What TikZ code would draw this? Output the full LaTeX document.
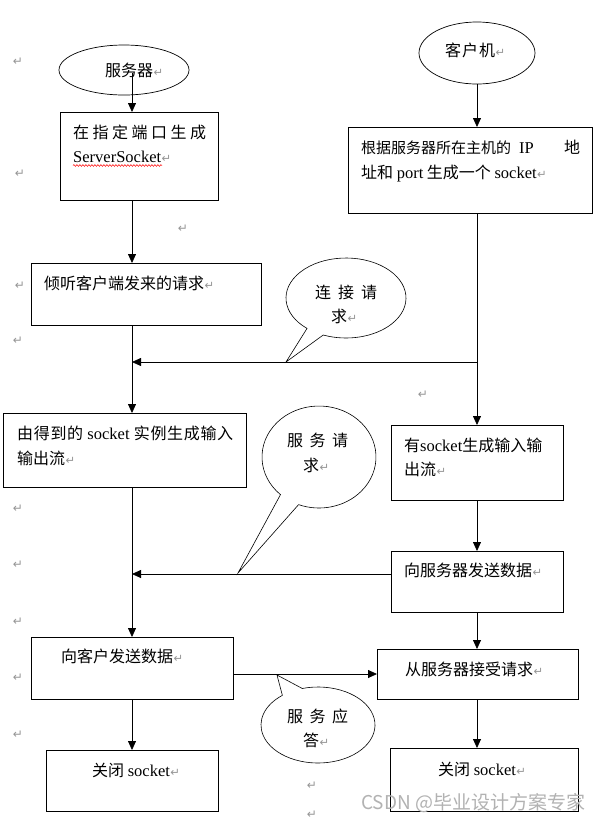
\documentclass[tikz,border=0pt]{standalone}
\usepackage{fontspec}
\setmainfont{Liberation Serif}
\newfontfamily\cjkfont{Noto Sans CJK SC}
\newfontfamily\symfont{DejaVu Sans}
\usetikzlibrary{arrows.meta,shapes.geometric,calc,decorations.pathmorphing}
\definecolor{retgray}{RGB}{150,150,150}
\definecolor{wmgray}{RGB}{178,178,178}
\newcommand\lat[1]{{\rmfamily\fontsize{16.5}{20}\selectfont #1}}
\newcommand\ret{{\color{retgray}\symfont\fontsize{11.5}{13}\selectfont\kern0.5pt↵}}
\newcommand\spr[2]{\hbox to #1{#2}}
\begin{document}
\begin{tikzpicture}[x=1pt, y=-1pt,
  box/.style={draw, line width=0.8pt, anchor=north west, inner sep=0pt, outer sep=0pt},
  oval/.style={ellipse, draw, line width=0.7pt, inner sep=0pt, outer sep=0pt},
  arr/.style={-{Triangle[length=9pt,width=8pt]}, line width=0.8pt},
  bub/.style={draw, line width=0.6pt, fill=white},
  txt/.style={anchor=base west, inner sep=0pt, font=\cjkfont\fontsize{16}{20}\selectfont},
  retn/.style={inner sep=0pt, text=retgray, font=\symfont\fontsize{12}{14}\selectfont}]
\fill[white] (0,0) rectangle (599,823);
\useasboundingbox (0,0) rectangle (599,823);

% ovals
\node[oval, minimum width=130pt, minimum height=50pt] (srv) at (124,70) {};
\node[oval, minimum width=116pt, minimum height=62pt] (cli) at (477,53) {};

% boxes
\node[box, minimum width=158pt, minimum height=88pt] (b1) at (60,112) {};
\node[box, minimum width=230pt, minimum height=62pt] (b2) at (31,263) {};
\node[box, minimum width=244pt, minimum height=86pt] (b3) at (348,127) {};
\node[box, minimum width=243pt, minimum height=74pt] (b4) at (3,413) {};
\node[box, minimum width=172pt, minimum height=75pt] (b5) at (391,425) {};
\node[box, minimum width=172pt, minimum height=61pt] (b6) at (391,551) {};
\node[box, minimum width=202pt, minimum height=62pt] (b7) at (31,637) {};
\node[box, minimum width=201pt, minimum height=50pt] (b8) at (377,649) {};
\node[box, minimum width=172pt, minimum height=61pt] (b9) at (46,750) {};
\node[box, minimum width=188pt, minimum height=63pt] (b10) at (390,748) {};

% helper coordinates
\coordinate (L) at (132,0);
\coordinate (R) at (477,0);
\coordinate (s0) at (132,73);
\coordinate (j1) at (477,362);
\coordinate (k1) at (132,362);
\coordinate (k2) at (132,574);
\coordinate (h) at (0,674);

% connectors
\draw[arr] (s0) -- (b1.north -| L);
\draw[arr] (b1.south -| L) -- (b2.north -| L);
\draw[arr] (cli.south -| R) -- (b3.north -| R);
\draw[arr] (b3.south -| R) -- (b5.north -| R);
\draw[arr] (j1) -- (k1);
\draw[arr] (b2.south -| L) -- (b4.north -| L);
\draw[arr] (b5.south -| R) -- (b6.north -| R);
\draw[arr] (b6.west |- k2) -- (k2);
\draw[arr] (b4.south -| L) -- (b7.north -| L);
\draw[arr] (b6.south -| R) -- (b8.north -| R);
\draw[arr] (b7.east |- h) -- (b8.west |- h);
\draw[arr] (b7.south -| L) -- (b9.north -| L);
\draw[arr] (b8.south -| R) -- (b10.north -| R);

% speech bubbles
\coordinate (c1) at (346,298); \coordinate (tp1) at (286,362);
\draw[bub] (tp1) -- ($(c1)+(130.5:60 and 40)$) arc[start angle=130.5, end angle=472.3, x radius=60, y radius=40] -- cycle;
\coordinate (c2) at (319,457); \coordinate (tp2) at (238,573);
\draw[bub] (tp2) -- ($(c2)+(132.5:57 and 51)$) arc[start angle=132.5, end angle=471, x radius=57, y radius=51] -- cycle;
\coordinate (c3) at (318,725); \coordinate (tp3) at (277,675);
\draw[bub] (tp3) -- ($(c3)+(254:57 and 38)$) arc[start angle=254, end angle=591.3, x radius=57, y radius=38] -- cycle;

% texts
\node[txt] (srvt) at (105,76) {\spr{48pt}{服\hss 务\hss 器}\ret};
\node[txt] (t1a) at (73,138) {\spr{133pt}{在\hss 指\hss 定\hss 端\hss 口\hss 生\hss 成}};
\node[txt] (t1b) at (73,162) {\lat{ServerSocket}\ret};
\draw[red, line width=0.5pt, decorate, decoration={snake, amplitude=0.9pt, segment length=3pt}] (73,165.5) -- (162,165.5);
\node[txt] (t2) at (44,289) {倾听客户端发来的请求\ret};
\node[txt] (clit) at (445,56) {\spr{50pt}{客\hss 户\hss 机}\ret};
\node[txt] (t3a) at (361,153) {\spr{219pt}{{\fontsize{15}{18}\selectfont 根据服务器所在主机的}\hspace{8pt}\lat{IP}\hfil 地}};
\node[txt] (t3b) at (361,178) {址和 \lat{port} 生成一个 \lat{socket}\ret};
\node[txt] (bt1a) at (315,298) {\spr{62pt}{连\hss 接\hss 请}};
\node[txt] (bt1b) at (331,322) {求\ret};
\node[txt] (t4a) at (17,439) {\spr{216pt}{由\hss 得\hss 到\hss 的\hss\ \lat{socket}\ \hss 实\hss 例\hss 生\hss 成\hss 输\hss 入}};
\node[txt] (t4b) at (17,464) {输出流\ret};
\node[txt] (t5a) at (404,451) {有\lat{socket}生成输入输};
\node[txt] (t5b) at (404,475) {出流\ret};
\node[txt] (bt2a) at (287,446) {\spr{61pt}{服\hss 务\hss 请}};
\node[txt] (bt2b) at (303,471) {求\ret};
\node[txt] (t6) at (404,576) {向服务器发送数据\ret};
\node[txt] (t7) at (61,662) {向客户发送数据\ret};
\node[txt] (t8) at (405,675) {从服务器接受请求\ret};
\node[txt] (bt3a) at (287,722) {\spr{61pt}{服\hss 务\hss 应}};
\node[txt] (bt3b) at (303,746) {答\ret};
\node[txt] (t9) at (92,776) {关闭 \lat{socket}\ret};
\node[txt] (t10) at (438,775) {关闭 \lat{socket}\ret};

% stray paragraph marks
\node[retn] (r1) at (18,62) {↵};
\node[retn] (r2) at (20,174) {↵};
\node[retn] (r3) at (183,229) {↵};
\node[retn] (r4) at (20,286) {↵};
\node[retn] (r5) at (18,341) {↵};
\node[retn] (r6) at (423,395) {↵};
\node[retn] (r7) at (18,509) {↵};
\node[retn] (r8) at (18,565) {↵};
\node[retn] (r9) at (18,622) {↵};
\node[retn] (r10) at (18,678) {↵};
\node[retn] (r11) at (18,735) {↵};
\node[retn] (r12) at (312,786) {↵};
\node[retn] (r13) at (312,815) {↵};

% watermark
\node[anchor=base west, inner sep=0pt, text=wmgray, font=\cjkfont\fontsize{19}{23}\selectfont] (wm) at (361,809) {CSDN @毕业设计方案专家};
\end{tikzpicture}
\end{document}
